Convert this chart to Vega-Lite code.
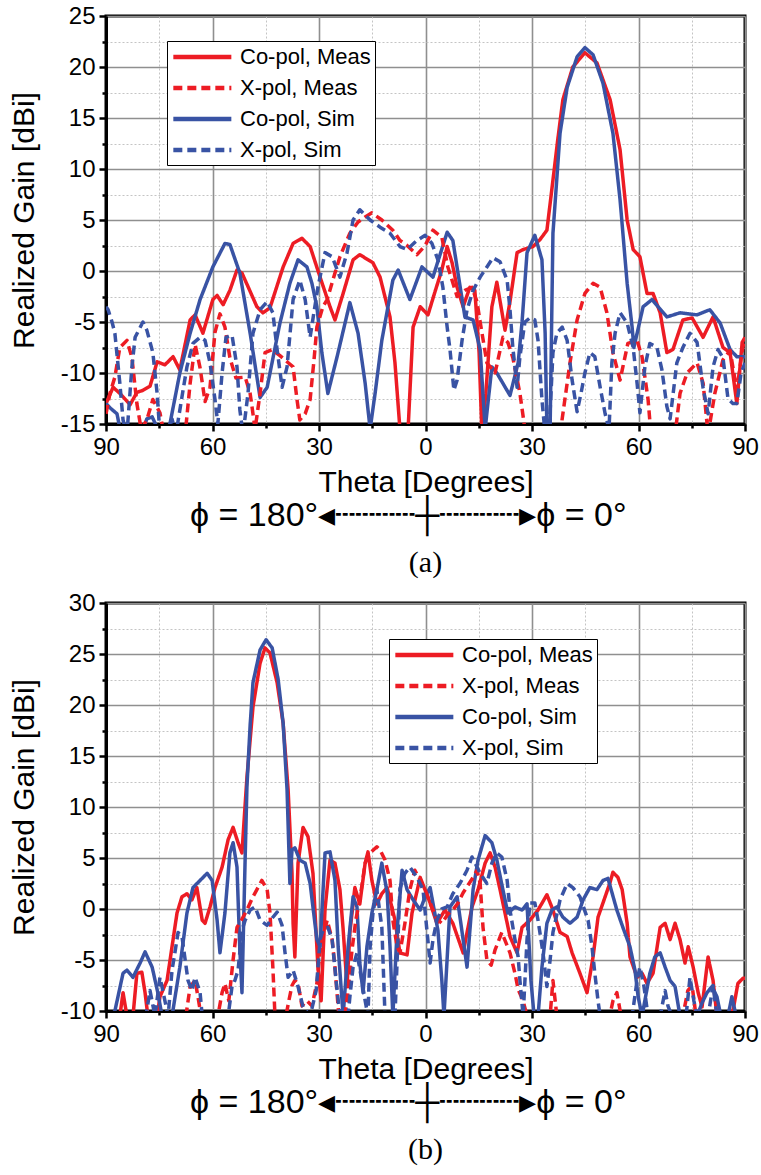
{
  "$schema": "https://vega.github.io/schema/vega-lite/v6.json",
  "background": "white",
  "padding": {"left": 7, "top": 2, "right": 2, "bottom": 4},
  "spacing": 9,
  "config": {
    "view": {"stroke": "black", "strokeWidth": 3},
    "axis": {
      "labelFont": "Liberation Sans", "labelFontSize": 24, "labelColor": "black",
      "titleFont": "Liberation Sans", "titleFontSize": 30, "titleFontWeight": "normal", "titleColor": "black",
      "domainColor": "black", "domainWidth": 3, "tickColor": "black", "tickWidth": 2.5,
      "gridOpacity": 1, "labelFlush": false, "labelOverlap": false, "labelBound": false, "labelPadding": 4
    },
    "legend": {
      "orient": "none", "title": null, "labelFont": "Liberation Sans", "labelFontSize": 22, "labelColor": "black",
      "symbolType": "M-1,0H5", "symbolSize": 374, "symbolStrokeWidth": 4.5, "labelOffset": 45,
      "strokeColor": "black", "fillColor": "white", "padding": 4, "rowPadding": 8, "labelLimit": 300
    }
  },
  "resolve": {"scale": {"color": "independent", "strokeDash": "independent"}, "legend": {"color": "independent", "strokeDash": "independent"}},
  "datasets": {
    "a": [
      {"series": "Co-pol, Meas", "theta": -90.0, "gain": -13},
      {"series": "Co-pol, Meas", "theta": -88.0, "gain": -11.4},
      {"series": "Co-pol, Meas", "theta": -86.1, "gain": -12},
      {"series": "Co-pol, Meas", "theta": -83.2, "gain": -13.1},
      {"series": "Co-pol, Meas", "theta": -81.3, "gain": -11.9},
      {"series": "Co-pol, Meas", "theta": -79.6, "gain": -11.7},
      {"series": "Co-pol, Meas", "theta": -77.6, "gain": -11.3},
      {"series": "Co-pol, Meas", "theta": -75.6, "gain": -8.9},
      {"series": "Co-pol, Meas", "theta": -73.4, "gain": -9.2},
      {"series": "Co-pol, Meas", "theta": -71.1, "gain": -8.4},
      {"series": "Co-pol, Meas", "theta": -69.2, "gain": -9.7},
      {"series": "Co-pol, Meas", "theta": -66.3, "gain": -4.8},
      {"series": "Co-pol, Meas", "theta": -64.9, "gain": -4.3},
      {"series": "Co-pol, Meas", "theta": -62.7, "gain": -6.1},
      {"series": "Co-pol, Meas", "theta": -59.9, "gain": -2.8},
      {"series": "Co-pol, Meas", "theta": -58.7, "gain": -2.4},
      {"series": "Co-pol, Meas", "theta": -57.0, "gain": -3.3},
      {"series": "Co-pol, Meas", "theta": -55.1, "gain": -1.9},
      {"series": "Co-pol, Meas", "theta": -53.1, "gain": 0.1},
      {"series": "Co-pol, Meas", "theta": -51.7, "gain": -0.2},
      {"series": "Co-pol, Meas", "theta": -49.4, "gain": -2},
      {"series": "Co-pol, Meas", "theta": -47.5, "gain": -3.5},
      {"series": "Co-pol, Meas", "theta": -45.8, "gain": -4.1},
      {"series": "Co-pol, Meas", "theta": -43.8, "gain": -3.6},
      {"series": "Co-pol, Meas", "theta": -40.1, "gain": 0.4},
      {"series": "Co-pol, Meas", "theta": -37.3, "gain": 2.7},
      {"series": "Co-pol, Meas", "theta": -34.8, "gain": 3.2},
      {"series": "Co-pol, Meas", "theta": -32.5, "gain": 2.4},
      {"series": "Co-pol, Meas", "theta": -29.7, "gain": -0.6},
      {"series": "Co-pol, Meas", "theta": -26.9, "gain": -3.5},
      {"series": "Co-pol, Meas", "theta": -25.5, "gain": -4.8},
      {"series": "Co-pol, Meas", "theta": -23.2, "gain": -2.2},
      {"series": "Co-pol, Meas", "theta": -20.4, "gain": 1.1},
      {"series": "Co-pol, Meas", "theta": -18.5, "gain": 1.6},
      {"series": "Co-pol, Meas", "theta": -14.8, "gain": 0.8},
      {"series": "Co-pol, Meas", "theta": -12.8, "gain": -0.6},
      {"series": "Co-pol, Meas", "theta": -10.0, "gain": -4.5},
      {"series": "Co-pol, Meas", "theta": -8.6, "gain": -9},
      {"series": "Co-pol, Meas", "theta": -7.2, "gain": -15.5},
      {"series": "Co-pol, Meas", "theta": -6.1, "gain": -17},
      {"series": "Co-pol, Meas", "theta": -4.9, "gain": -15.5},
      {"series": "Co-pol, Meas", "theta": -3.5, "gain": -5.5},
      {"series": "Co-pol, Meas", "theta": -1.5, "gain": -3.5},
      {"series": "Co-pol, Meas", "theta": 0.7, "gain": -4.3},
      {"series": "Co-pol, Meas", "theta": 2.7, "gain": -2},
      {"series": "Co-pol, Meas", "theta": 4.6, "gain": 0.1},
      {"series": "Co-pol, Meas", "theta": 6.1, "gain": 2.4},
      {"series": "Co-pol, Meas", "theta": 7.5, "gain": 0.8},
      {"series": "Co-pol, Meas", "theta": 8.9, "gain": -1.6},
      {"series": "Co-pol, Meas", "theta": 10.6, "gain": -3.5},
      {"series": "Co-pol, Meas", "theta": 12.5, "gain": -1.6},
      {"series": "Co-pol, Meas", "theta": 13.9, "gain": -1.9},
      {"series": "Co-pol, Meas", "theta": 15.1, "gain": -8},
      {"series": "Co-pol, Meas", "theta": 15.9, "gain": -16},
      {"series": "Co-pol, Meas", "theta": 17.0, "gain": -12},
      {"series": "Co-pol, Meas", "theta": 18.7, "gain": -3.5},
      {"series": "Co-pol, Meas", "theta": 20.1, "gain": -1.1},
      {"series": "Co-pol, Meas", "theta": 22.4, "gain": -5.8},
      {"series": "Co-pol, Meas", "theta": 23.8, "gain": -3},
      {"series": "Co-pol, Meas", "theta": 25.8, "gain": 1.8},
      {"series": "Co-pol, Meas", "theta": 27.5, "gain": 2.1},
      {"series": "Co-pol, Meas", "theta": 30.3, "gain": 2.4},
      {"series": "Co-pol, Meas", "theta": 32.3, "gain": 3.1},
      {"series": "Co-pol, Meas", "theta": 34.2, "gain": 4.0},
      {"series": "Co-pol, Meas", "theta": 35.9, "gain": 8.9},
      {"series": "Co-pol, Meas", "theta": 37.3, "gain": 13},
      {"series": "Co-pol, Meas", "theta": 38.7, "gain": 16.8},
      {"series": "Co-pol, Meas", "theta": 41.5, "gain": 20},
      {"series": "Co-pol, Meas", "theta": 44.9, "gain": 21.4},
      {"series": "Co-pol, Meas", "theta": 48.3, "gain": 20.4},
      {"series": "Co-pol, Meas", "theta": 52.0, "gain": 16.8},
      {"series": "Co-pol, Meas", "theta": 54.8, "gain": 11.9},
      {"series": "Co-pol, Meas", "theta": 56.8, "gain": 5},
      {"series": "Co-pol, Meas", "theta": 58.5, "gain": 2.1},
      {"series": "Co-pol, Meas", "theta": 60.4, "gain": 1.4},
      {"series": "Co-pol, Meas", "theta": 62.4, "gain": -2.2},
      {"series": "Co-pol, Meas", "theta": 64.1, "gain": -2.2},
      {"series": "Co-pol, Meas", "theta": 66.1, "gain": -4.1},
      {"series": "Co-pol, Meas", "theta": 68.0, "gain": -8.0},
      {"series": "Co-pol, Meas", "theta": 69.7, "gain": -7.7},
      {"series": "Co-pol, Meas", "theta": 72.5, "gain": -4.8},
      {"series": "Co-pol, Meas", "theta": 75.1, "gain": -4.6},
      {"series": "Co-pol, Meas", "theta": 78.2, "gain": -6.5},
      {"series": "Co-pol, Meas", "theta": 81.0, "gain": -4.5},
      {"series": "Co-pol, Meas", "theta": 83.8, "gain": -7.5},
      {"series": "Co-pol, Meas", "theta": 85.8, "gain": -8},
      {"series": "Co-pol, Meas", "theta": 87.7, "gain": -13},
      {"series": "Co-pol, Meas", "theta": 89.2, "gain": -7},
      {"series": "Co-pol, Meas", "theta": 90.0, "gain": -6.5},

      {"series": "Co-pol, Sim", "theta": -90.0, "gain": -13},
      {"series": "Co-pol, Sim", "theta": -88.6, "gain": -13.5},
      {"series": "Co-pol, Sim", "theta": -86.9, "gain": -14},
      {"series": "Co-pol, Sim", "theta": -85.5, "gain": -16.5},
      {"series": "Co-pol, Sim", "theta": -80.4, "gain": -16.5},
      {"series": "Co-pol, Sim", "theta": -78.5, "gain": -14.5},
      {"series": "Co-pol, Sim", "theta": -77.0, "gain": -14.3},
      {"series": "Co-pol, Sim", "theta": -75.4, "gain": -15.5},
      {"series": "Co-pol, Sim", "theta": -73.4, "gain": -17},
      {"series": "Co-pol, Sim", "theta": -72.0, "gain": -15},
      {"series": "Co-pol, Sim", "theta": -69.2, "gain": -10},
      {"series": "Co-pol, Sim", "theta": -66.3, "gain": -6.1},
      {"series": "Co-pol, Sim", "theta": -63.5, "gain": -2.8},
      {"series": "Co-pol, Sim", "theta": -59.9, "gain": 0.4},
      {"series": "Co-pol, Sim", "theta": -56.5, "gain": 2.7},
      {"series": "Co-pol, Sim", "theta": -55.1, "gain": 2.6},
      {"series": "Co-pol, Sim", "theta": -52.3, "gain": -0.2},
      {"series": "Co-pol, Sim", "theta": -49.4, "gain": -6.1},
      {"series": "Co-pol, Sim", "theta": -46.6, "gain": -12.4},
      {"series": "Co-pol, Sim", "theta": -44.6, "gain": -11.4},
      {"series": "Co-pol, Sim", "theta": -41.0, "gain": -5.1},
      {"series": "Co-pol, Sim", "theta": -38.2, "gain": -1.2},
      {"series": "Co-pol, Sim", "theta": -35.9, "gain": 1.1},
      {"series": "Co-pol, Sim", "theta": -33.4, "gain": 0.4},
      {"series": "Co-pol, Sim", "theta": -32.0, "gain": -1.2},
      {"series": "Co-pol, Sim", "theta": -30.6, "gain": -3.5},
      {"series": "Co-pol, Sim", "theta": -29.2, "gain": -8},
      {"series": "Co-pol, Sim", "theta": -27.5, "gain": -12},
      {"series": "Co-pol, Sim", "theta": -24.9, "gain": -8.4},
      {"series": "Co-pol, Sim", "theta": -21.3, "gain": -3.1},
      {"series": "Co-pol, Sim", "theta": -19.0, "gain": -6.1},
      {"series": "Co-pol, Sim", "theta": -17.0, "gain": -11},
      {"series": "Co-pol, Sim", "theta": -15.6, "gain": -15.5},
      {"series": "Co-pol, Sim", "theta": -14.2, "gain": -12},
      {"series": "Co-pol, Sim", "theta": -12.3, "gain": -6.8},
      {"series": "Co-pol, Sim", "theta": -9.2, "gain": -0.9},
      {"series": "Co-pol, Sim", "theta": -7.7, "gain": 0.1},
      {"series": "Co-pol, Sim", "theta": -4.4, "gain": -2.8},
      {"series": "Co-pol, Sim", "theta": -1.0, "gain": 0.4},
      {"series": "Co-pol, Sim", "theta": 2.1, "gain": -0.6},
      {"series": "Co-pol, Sim", "theta": 6.1, "gain": 3.8},
      {"series": "Co-pol, Sim", "theta": 7.7, "gain": 3.0},
      {"series": "Co-pol, Sim", "theta": 11.1, "gain": -4.5},
      {"series": "Co-pol, Sim", "theta": 13.4, "gain": -4.8},
      {"series": "Co-pol, Sim", "theta": 15.4, "gain": -7.7},
      {"series": "Co-pol, Sim", "theta": 16.8, "gain": -15.5},
      {"series": "Co-pol, Sim", "theta": 18.7, "gain": -9.4},
      {"series": "Co-pol, Sim", "theta": 20.1, "gain": -10},
      {"series": "Co-pol, Sim", "theta": 23.8, "gain": -12.2},
      {"series": "Co-pol, Sim", "theta": 26.1, "gain": -9},
      {"series": "Co-pol, Sim", "theta": 27.2, "gain": -5},
      {"series": "Co-pol, Sim", "theta": 28.6, "gain": 1.8},
      {"series": "Co-pol, Sim", "theta": 30.8, "gain": 3.5},
      {"series": "Co-pol, Sim", "theta": 32.8, "gain": 1.1},
      {"series": "Co-pol, Sim", "theta": 33.7, "gain": -6.1},
      {"series": "Co-pol, Sim", "theta": 34.2, "gain": -15.5},
      {"series": "Co-pol, Sim", "theta": 35.1, "gain": -15.5},
      {"series": "Co-pol, Sim", "theta": 35.9, "gain": 3.7},
      {"series": "Co-pol, Sim", "theta": 37.9, "gain": 13.5},
      {"series": "Co-pol, Sim", "theta": 39.9, "gain": 18},
      {"series": "Co-pol, Sim", "theta": 42.7, "gain": 21},
      {"series": "Co-pol, Sim", "theta": 44.9, "gain": 21.9},
      {"series": "Co-pol, Sim", "theta": 47.2, "gain": 21.2},
      {"series": "Co-pol, Sim", "theta": 50.0, "gain": 18.4},
      {"series": "Co-pol, Sim", "theta": 52.8, "gain": 13.5},
      {"series": "Co-pol, Sim", "theta": 54.8, "gain": 7},
      {"series": "Co-pol, Sim", "theta": 56.8, "gain": -1.2},
      {"series": "Co-pol, Sim", "theta": 58.2, "gain": -5.5},
      {"series": "Co-pol, Sim", "theta": 58.7, "gain": -7.5},
      {"series": "Co-pol, Sim", "theta": 61.3, "gain": -3.5},
      {"series": "Co-pol, Sim", "theta": 63.8, "gain": -2.8},
      {"series": "Co-pol, Sim", "theta": 68.0, "gain": -4.5},
      {"series": "Co-pol, Sim", "theta": 71.7, "gain": -4.1},
      {"series": "Co-pol, Sim", "theta": 76.5, "gain": -4.3},
      {"series": "Co-pol, Sim", "theta": 80.1, "gain": -3.8},
      {"series": "Co-pol, Sim", "theta": 83.0, "gain": -5.1},
      {"series": "Co-pol, Sim", "theta": 85.8, "gain": -7.7},
      {"series": "Co-pol, Sim", "theta": 87.7, "gain": -8.4},
      {"series": "Co-pol, Sim", "theta": 90.0, "gain": -8.4},

      {"series": "X-pol, Meas", "theta": -90.0, "gain": -14},
      {"series": "X-pol, Meas", "theta": -88.9, "gain": -12},
      {"series": "X-pol, Meas", "theta": -87.5, "gain": -10.4},
      {"series": "X-pol, Meas", "theta": -86.1, "gain": -7.5},
      {"series": "X-pol, Meas", "theta": -84.1, "gain": -6.8},
      {"series": "X-pol, Meas", "theta": -82.7, "gain": -8.5},
      {"series": "X-pol, Meas", "theta": -81.3, "gain": -13},
      {"series": "X-pol, Meas", "theta": -80.1, "gain": -15.5},
      {"series": "X-pol, Meas", "theta": -78.5, "gain": -14.6},
      {"series": "X-pol, Meas", "theta": -76.8, "gain": -12.6},
      {"series": "X-pol, Meas", "theta": -74.8, "gain": -13.9},
      {"series": "X-pol, Meas", "theta": -73.7, "gain": -16},
      {"series": "X-pol, Meas", "theta": -67.7, "gain": -16},
      {"series": "X-pol, Meas", "theta": -66.3, "gain": -11},
      {"series": "X-pol, Meas", "theta": -64.9, "gain": -7.2},
      {"series": "X-pol, Meas", "theta": -63.5, "gain": -9.5},
      {"series": "X-pol, Meas", "theta": -62.1, "gain": -12.8},
      {"series": "X-pol, Meas", "theta": -60.7, "gain": -11.4},
      {"series": "X-pol, Meas", "theta": -59.3, "gain": -6},
      {"series": "X-pol, Meas", "theta": -57.9, "gain": -4.2},
      {"series": "X-pol, Meas", "theta": -56.5, "gain": -5.5},
      {"series": "X-pol, Meas", "theta": -55.1, "gain": -8.5},
      {"series": "X-pol, Meas", "theta": -53.4, "gain": -10.5},
      {"series": "X-pol, Meas", "theta": -50.8, "gain": -10.4},
      {"series": "X-pol, Meas", "theta": -49.4, "gain": -12},
      {"series": "X-pol, Meas", "theta": -48.0, "gain": -15.5},
      {"series": "X-pol, Meas", "theta": -46.6, "gain": -12},
      {"series": "X-pol, Meas", "theta": -45.2, "gain": -8},
      {"series": "X-pol, Meas", "theta": -43.2, "gain": -7.7},
      {"series": "X-pol, Meas", "theta": -41.0, "gain": -8.3},
      {"series": "X-pol, Meas", "theta": -39.0, "gain": -8.9},
      {"series": "X-pol, Meas", "theta": -37.3, "gain": -9.4},
      {"series": "X-pol, Meas", "theta": -36.2, "gain": -12.6},
      {"series": "X-pol, Meas", "theta": -35.4, "gain": -14.6},
      {"series": "X-pol, Meas", "theta": -33.9, "gain": -14},
      {"series": "X-pol, Meas", "theta": -32.5, "gain": -12.6},
      {"series": "X-pol, Meas", "theta": -31.4, "gain": -8.7},
      {"series": "X-pol, Meas", "theta": -30.6, "gain": -5.5},
      {"series": "X-pol, Meas", "theta": -28.9, "gain": -3.5},
      {"series": "X-pol, Meas", "theta": -27.7, "gain": -2.8},
      {"series": "X-pol, Meas", "theta": -25.5, "gain": -0.2},
      {"series": "X-pol, Meas", "theta": -24.1, "gain": 1.4},
      {"series": "X-pol, Meas", "theta": -21.3, "gain": 3.7},
      {"series": "X-pol, Meas", "theta": -19.0, "gain": 4.8},
      {"series": "X-pol, Meas", "theta": -17.0, "gain": 5.3},
      {"series": "X-pol, Meas", "theta": -15.1, "gain": 5.7},
      {"series": "X-pol, Meas", "theta": -12.3, "gain": 5},
      {"series": "X-pol, Meas", "theta": -9.2, "gain": 4},
      {"series": "X-pol, Meas", "theta": -7.2, "gain": 3.0},
      {"series": "X-pol, Meas", "theta": -5.2, "gain": 2.5},
      {"series": "X-pol, Meas", "theta": -2.4, "gain": 1.6},
      {"series": "X-pol, Meas", "theta": -0.1, "gain": 2.5},
      {"series": "X-pol, Meas", "theta": 2.1, "gain": 4},
      {"series": "X-pol, Meas", "theta": 3.2, "gain": 3.7},
      {"series": "X-pol, Meas", "theta": 4.6, "gain": 3.3},
      {"series": "X-pol, Meas", "theta": 6.3, "gain": 0.4},
      {"series": "X-pol, Meas", "theta": 8.9, "gain": -2.5},
      {"series": "X-pol, Meas", "theta": 11.1, "gain": -1.9},
      {"series": "X-pol, Meas", "theta": 13.1, "gain": -1.6},
      {"series": "X-pol, Meas", "theta": 14.5, "gain": -3},
      {"series": "X-pol, Meas", "theta": 15.4, "gain": -5},
      {"series": "X-pol, Meas", "theta": 17.3, "gain": -9},
      {"series": "X-pol, Meas", "theta": 19.6, "gain": -10},
      {"series": "X-pol, Meas", "theta": 21.8, "gain": -6.5},
      {"series": "X-pol, Meas", "theta": 23.2, "gain": -7},
      {"series": "X-pol, Meas", "theta": 24.6, "gain": -8.5},
      {"series": "X-pol, Meas", "theta": 26.6, "gain": -12},
      {"series": "X-pol, Meas", "theta": 28.0, "gain": -15.5},
      {"series": "X-pol, Meas", "theta": 37.9, "gain": -16},
      {"series": "X-pol, Meas", "theta": 38.7, "gain": -14},
      {"series": "X-pol, Meas", "theta": 40.7, "gain": -9},
      {"series": "X-pol, Meas", "theta": 42.7, "gain": -4.8},
      {"series": "X-pol, Meas", "theta": 44.9, "gain": -2.2},
      {"series": "X-pol, Meas", "theta": 47.2, "gain": -1.2},
      {"series": "X-pol, Meas", "theta": 49.2, "gain": -1.6},
      {"series": "X-pol, Meas", "theta": 51.1, "gain": -4.1},
      {"series": "X-pol, Meas", "theta": 52.8, "gain": -8},
      {"series": "X-pol, Meas", "theta": 54.8, "gain": -10.7},
      {"series": "X-pol, Meas", "theta": 55.6, "gain": -9.4},
      {"series": "X-pol, Meas", "theta": 57.0, "gain": -7.1},
      {"series": "X-pol, Meas", "theta": 59.6, "gain": -6.8},
      {"series": "X-pol, Meas", "theta": 61.0, "gain": -8.4},
      {"series": "X-pol, Meas", "theta": 62.7, "gain": -12.6},
      {"series": "X-pol, Meas", "theta": 63.5, "gain": -16},
      {"series": "X-pol, Meas", "theta": 70.3, "gain": -16},
      {"series": "X-pol, Meas", "theta": 71.7, "gain": -12},
      {"series": "X-pol, Meas", "theta": 73.7, "gain": -10},
      {"series": "X-pol, Meas", "theta": 76.5, "gain": -9},
      {"series": "X-pol, Meas", "theta": 78.2, "gain": -11},
      {"series": "X-pol, Meas", "theta": 79.6, "gain": -16},
      {"series": "X-pol, Meas", "theta": 81.5, "gain": -12},
      {"series": "X-pol, Meas", "theta": 83.8, "gain": -8.7},
      {"series": "X-pol, Meas", "theta": 85.8, "gain": -7.8},
      {"series": "X-pol, Meas", "theta": 87.7, "gain": -11.7},
      {"series": "X-pol, Meas", "theta": 89.4, "gain": -7.4},
      {"series": "X-pol, Meas", "theta": 90.0, "gain": -7},

      {"series": "X-pol, Sim", "theta": -90.0, "gain": -3.5},
      {"series": "X-pol, Sim", "theta": -89.4, "gain": -3.8},
      {"series": "X-pol, Sim", "theta": -88.3, "gain": -5},
      {"series": "X-pol, Sim", "theta": -87.5, "gain": -6.1},
      {"series": "X-pol, Sim", "theta": -86.1, "gain": -11},
      {"series": "X-pol, Sim", "theta": -85.2, "gain": -14.6},
      {"series": "X-pol, Sim", "theta": -84.1, "gain": -16},
      {"series": "X-pol, Sim", "theta": -82.7, "gain": -9.4},
      {"series": "X-pol, Sim", "theta": -81.8, "gain": -6.5},
      {"series": "X-pol, Sim", "theta": -79.6, "gain": -5},
      {"series": "X-pol, Sim", "theta": -78.5, "gain": -5.8},
      {"series": "X-pol, Sim", "theta": -76.8, "gain": -8},
      {"series": "X-pol, Sim", "theta": -75.6, "gain": -12},
      {"series": "X-pol, Sim", "theta": -74.8, "gain": -16},
      {"series": "X-pol, Sim", "theta": -72.5, "gain": -16},
      {"series": "X-pol, Sim", "theta": -71.4, "gain": -14.5},
      {"series": "X-pol, Sim", "theta": -70.3, "gain": -16},
      {"series": "X-pol, Sim", "theta": -68.3, "gain": -11.7},
      {"series": "X-pol, Sim", "theta": -67.2, "gain": -9.4},
      {"series": "X-pol, Sim", "theta": -65.5, "gain": -7.1},
      {"series": "X-pol, Sim", "theta": -63.5, "gain": -6.5},
      {"series": "X-pol, Sim", "theta": -62.1, "gain": -6.8},
      {"series": "X-pol, Sim", "theta": -60.7, "gain": -9},
      {"series": "X-pol, Sim", "theta": -59.3, "gain": -12.6},
      {"series": "X-pol, Sim", "theta": -58.5, "gain": -15},
      {"series": "X-pol, Sim", "theta": -57.3, "gain": -10},
      {"series": "X-pol, Sim", "theta": -56.2, "gain": -6.5},
      {"series": "X-pol, Sim", "theta": -54.5, "gain": -6.3},
      {"series": "X-pol, Sim", "theta": -53.1, "gain": -9.4},
      {"series": "X-pol, Sim", "theta": -52.3, "gain": -13.6},
      {"series": "X-pol, Sim", "theta": -51.4, "gain": -16},
      {"series": "X-pol, Sim", "theta": -50.0, "gain": -12},
      {"series": "X-pol, Sim", "theta": -48.6, "gain": -6.1},
      {"series": "X-pol, Sim", "theta": -46.6, "gain": -3.8},
      {"series": "X-pol, Sim", "theta": -44.6, "gain": -3},
      {"series": "X-pol, Sim", "theta": -43.0, "gain": -4.1},
      {"series": "X-pol, Sim", "theta": -41.8, "gain": -7.7},
      {"series": "X-pol, Sim", "theta": -40.4, "gain": -11.4},
      {"series": "X-pol, Sim", "theta": -39.0, "gain": -9.4},
      {"series": "X-pol, Sim", "theta": -37.3, "gain": -2.8},
      {"series": "X-pol, Sim", "theta": -35.4, "gain": -0.9},
      {"series": "X-pol, Sim", "theta": -33.9, "gain": -2.8},
      {"series": "X-pol, Sim", "theta": -32.5, "gain": -6.5},
      {"series": "X-pol, Sim", "theta": -31.4, "gain": -4},
      {"series": "X-pol, Sim", "theta": -30.3, "gain": -1.6},
      {"series": "X-pol, Sim", "theta": -28.3, "gain": 1.8},
      {"series": "X-pol, Sim", "theta": -26.3, "gain": 1.4},
      {"series": "X-pol, Sim", "theta": -24.1, "gain": -0.6},
      {"series": "X-pol, Sim", "theta": -22.1, "gain": 1.8},
      {"series": "X-pol, Sim", "theta": -20.4, "gain": 5},
      {"series": "X-pol, Sim", "theta": -18.5, "gain": 6},
      {"series": "X-pol, Sim", "theta": -15.6, "gain": 5},
      {"series": "X-pol, Sim", "theta": -12.8, "gain": 4.3},
      {"series": "X-pol, Sim", "theta": -10.0, "gain": 3.7},
      {"series": "X-pol, Sim", "theta": -7.2, "gain": 2.4},
      {"series": "X-pol, Sim", "theta": -5.2, "gain": 2.1},
      {"series": "X-pol, Sim", "theta": -2.4, "gain": 3.0},
      {"series": "X-pol, Sim", "theta": -0.1, "gain": 3.5},
      {"series": "X-pol, Sim", "theta": 1.8, "gain": 2.7},
      {"series": "X-pol, Sim", "theta": 3.5, "gain": 1.1},
      {"series": "X-pol, Sim", "theta": 4.9, "gain": -1.6},
      {"series": "X-pol, Sim", "theta": 6.1, "gain": -5.5},
      {"series": "X-pol, Sim", "theta": 6.9, "gain": -7.7},
      {"series": "X-pol, Sim", "theta": 8.0, "gain": -11.7},
      {"series": "X-pol, Sim", "theta": 8.9, "gain": -10.7},
      {"series": "X-pol, Sim", "theta": 10.3, "gain": -6.8},
      {"series": "X-pol, Sim", "theta": 11.7, "gain": -3.8},
      {"series": "X-pol, Sim", "theta": 13.4, "gain": -1.9},
      {"series": "X-pol, Sim", "theta": 15.4, "gain": -0.6},
      {"series": "X-pol, Sim", "theta": 17.3, "gain": 0.4},
      {"series": "X-pol, Sim", "theta": 19.0, "gain": 1.3},
      {"series": "X-pol, Sim", "theta": 21.0, "gain": 0.9},
      {"series": "X-pol, Sim", "theta": 23.0, "gain": -0.9},
      {"series": "X-pol, Sim", "theta": 23.8, "gain": -3.8},
      {"series": "X-pol, Sim", "theta": 24.6, "gain": -7.5},
      {"series": "X-pol, Sim", "theta": 25.8, "gain": -11.4},
      {"series": "X-pol, Sim", "theta": 26.6, "gain": -8.4},
      {"series": "X-pol, Sim", "theta": 28.0, "gain": -5},
      {"series": "X-pol, Sim", "theta": 29.4, "gain": -4.6},
      {"series": "X-pol, Sim", "theta": 30.8, "gain": -4.8},
      {"series": "X-pol, Sim", "theta": 31.7, "gain": -6.8},
      {"series": "X-pol, Sim", "theta": 32.8, "gain": -12.6},
      {"series": "X-pol, Sim", "theta": 33.7, "gain": -16},
      {"series": "X-pol, Sim", "theta": 34.8, "gain": -16},
      {"series": "X-pol, Sim", "theta": 35.9, "gain": -8},
      {"series": "X-pol, Sim", "theta": 37.0, "gain": -6.1},
      {"series": "X-pol, Sim", "theta": 38.5, "gain": -5.5},
      {"series": "X-pol, Sim", "theta": 39.9, "gain": -6.8},
      {"series": "X-pol, Sim", "theta": 41.3, "gain": -10.7},
      {"series": "X-pol, Sim", "theta": 42.7, "gain": -13.8},
      {"series": "X-pol, Sim", "theta": 43.8, "gain": -12},
      {"series": "X-pol, Sim", "theta": 44.9, "gain": -10},
      {"series": "X-pol, Sim", "theta": 46.3, "gain": -8},
      {"series": "X-pol, Sim", "theta": 47.7, "gain": -8.4},
      {"series": "X-pol, Sim", "theta": 49.2, "gain": -11.4},
      {"series": "X-pol, Sim", "theta": 50.6, "gain": -14},
      {"series": "X-pol, Sim", "theta": 51.7, "gain": -15.5},
      {"series": "X-pol, Sim", "theta": 52.5, "gain": -9},
      {"series": "X-pol, Sim", "theta": 53.4, "gain": -6.1},
      {"series": "X-pol, Sim", "theta": 54.8, "gain": -4.1},
      {"series": "X-pol, Sim", "theta": 56.8, "gain": -5.1},
      {"series": "X-pol, Sim", "theta": 58.5, "gain": -7.5},
      {"series": "X-pol, Sim", "theta": 59.6, "gain": -11},
      {"series": "X-pol, Sim", "theta": 60.4, "gain": -13.9},
      {"series": "X-pol, Sim", "theta": 61.8, "gain": -9.4},
      {"series": "X-pol, Sim", "theta": 63.2, "gain": -7.1},
      {"series": "X-pol, Sim", "theta": 65.2, "gain": -7.5},
      {"series": "X-pol, Sim", "theta": 66.6, "gain": -9.7},
      {"series": "X-pol, Sim", "theta": 68.0, "gain": -13.3},
      {"series": "X-pol, Sim", "theta": 68.9, "gain": -14.5},
      {"series": "X-pol, Sim", "theta": 70.8, "gain": -9},
      {"series": "X-pol, Sim", "theta": 72.5, "gain": -7.5},
      {"series": "X-pol, Sim", "theta": 74.5, "gain": -6.1},
      {"series": "X-pol, Sim", "theta": 76.5, "gain": -7},
      {"series": "X-pol, Sim", "theta": 78.2, "gain": -11.5},
      {"series": "X-pol, Sim", "theta": 79.6, "gain": -14},
      {"series": "X-pol, Sim", "theta": 81.0, "gain": -9.4},
      {"series": "X-pol, Sim", "theta": 82.4, "gain": -7.7},
      {"series": "X-pol, Sim", "theta": 83.8, "gain": -8.5},
      {"series": "X-pol, Sim", "theta": 85.2, "gain": -12.5},
      {"series": "X-pol, Sim", "theta": 86.6, "gain": -13},
      {"series": "X-pol, Sim", "theta": 87.7, "gain": -13},
      {"series": "X-pol, Sim", "theta": 88.9, "gain": -10},
      {"series": "X-pol, Sim", "theta": 90.0, "gain": -9}
    ],
    "b": [
      {"series": "Co-pol, Meas", "theta": -90.0, "gain": -10.5},
      {"series": "Co-pol, Meas", "theta": -86.1, "gain": -10.5},
      {"series": "Co-pol, Meas", "theta": -85.2, "gain": -8.2},
      {"series": "Co-pol, Meas", "theta": -84.1, "gain": -10.5},
      {"series": "Co-pol, Meas", "theta": -82.4, "gain": -10.5},
      {"series": "Co-pol, Meas", "theta": -81.3, "gain": -6.3},
      {"series": "Co-pol, Meas", "theta": -79.9, "gain": -6.2},
      {"series": "Co-pol, Meas", "theta": -79.0, "gain": -8.2},
      {"series": "Co-pol, Meas", "theta": -78.2, "gain": -10.5},
      {"series": "Co-pol, Meas", "theta": -75.6, "gain": -10.5},
      {"series": "Co-pol, Meas", "theta": -74.8, "gain": -8.6},
      {"series": "Co-pol, Meas", "theta": -72.8, "gain": -7},
      {"series": "Co-pol, Meas", "theta": -71.4, "gain": -3.7},
      {"series": "Co-pol, Meas", "theta": -70.0, "gain": -0.4},
      {"series": "Co-pol, Meas", "theta": -68.6, "gain": 1.2},
      {"series": "Co-pol, Meas", "theta": -67.2, "gain": 1.5},
      {"series": "Co-pol, Meas", "theta": -65.8, "gain": 0.9},
      {"series": "Co-pol, Meas", "theta": -64.4, "gain": 2.1},
      {"series": "Co-pol, Meas", "theta": -62.9, "gain": -1.1},
      {"series": "Co-pol, Meas", "theta": -62.1, "gain": -1.4},
      {"series": "Co-pol, Meas", "theta": -60.7, "gain": 0.2},
      {"series": "Co-pol, Meas", "theta": -59.3, "gain": 2.1},
      {"series": "Co-pol, Meas", "theta": -57.3, "gain": 4.1},
      {"series": "Co-pol, Meas", "theta": -55.6, "gain": 6.8},
      {"series": "Co-pol, Meas", "theta": -54.2, "gain": 8.0},
      {"series": "Co-pol, Meas", "theta": -52.8, "gain": 6.5},
      {"series": "Co-pol, Meas", "theta": -51.7, "gain": 5.5},
      {"series": "Co-pol, Meas", "theta": -50.3, "gain": 12.9},
      {"series": "Co-pol, Meas", "theta": -48.6, "gain": 19.8},
      {"series": "Co-pol, Meas", "theta": -46.6, "gain": 24.1},
      {"series": "Co-pol, Meas", "theta": -45.2, "gain": 25.6},
      {"series": "Co-pol, Meas", "theta": -43.8, "gain": 25.1},
      {"series": "Co-pol, Meas", "theta": -41.8, "gain": 22.2},
      {"series": "Co-pol, Meas", "theta": -40.1, "gain": 18.2},
      {"series": "Co-pol, Meas", "theta": -38.7, "gain": 11.7},
      {"series": "Co-pol, Meas", "theta": -37.6, "gain": 3.5},
      {"series": "Co-pol, Meas", "theta": -37.3, "gain": -1.4},
      {"series": "Co-pol, Meas", "theta": -36.8, "gain": -4.7},
      {"series": "Co-pol, Meas", "theta": -35.9, "gain": 4.5},
      {"series": "Co-pol, Meas", "theta": -34.5, "gain": 8.0},
      {"series": "Co-pol, Meas", "theta": -33.1, "gain": 7.1},
      {"series": "Co-pol, Meas", "theta": -31.7, "gain": 3.5},
      {"series": "Co-pol, Meas", "theta": -30.3, "gain": -5.7},
      {"series": "Co-pol, Meas", "theta": -29.4, "gain": -9},
      {"series": "Co-pol, Meas", "theta": -28.3, "gain": 0},
      {"series": "Co-pol, Meas", "theta": -26.9, "gain": 4.8},
      {"series": "Co-pol, Meas", "theta": -25.5, "gain": 4.5},
      {"series": "Co-pol, Meas", "theta": -24.1, "gain": 1.9},
      {"series": "Co-pol, Meas", "theta": -23.2, "gain": -2},
      {"series": "Co-pol, Meas", "theta": -22.1, "gain": -7.6},
      {"series": "Co-pol, Meas", "theta": -21.3, "gain": -2.3},
      {"series": "Co-pol, Meas", "theta": -19.9, "gain": 2.1},
      {"series": "Co-pol, Meas", "theta": -18.5, "gain": 0.5},
      {"series": "Co-pol, Meas", "theta": -17.0, "gain": 4.5},
      {"series": "Co-pol, Meas", "theta": -16.2, "gain": 5.6},
      {"series": "Co-pol, Meas", "theta": -15.1, "gain": 2.8},
      {"series": "Co-pol, Meas", "theta": -13.7, "gain": 0.5},
      {"series": "Co-pol, Meas", "theta": -12.3, "gain": 1.5},
      {"series": "Co-pol, Meas", "theta": -10.8, "gain": 2.1},
      {"series": "Co-pol, Meas", "theta": -8.6, "gain": -1.1},
      {"series": "Co-pol, Meas", "theta": -7.2, "gain": -4.3},
      {"series": "Co-pol, Meas", "theta": -5.2, "gain": -4.5},
      {"series": "Co-pol, Meas", "theta": -3.8, "gain": -0.4},
      {"series": "Co-pol, Meas", "theta": -1.5, "gain": 3.1},
      {"series": "Co-pol, Meas", "theta": 1.3, "gain": 0.6},
      {"series": "Co-pol, Meas", "theta": 3.2, "gain": -1.4},
      {"series": "Co-pol, Meas", "theta": 5.5, "gain": -0.1},
      {"series": "Co-pol, Meas", "theta": 7.7, "gain": -1.4},
      {"series": "Co-pol, Meas", "theta": 10.6, "gain": -4.3},
      {"series": "Co-pol, Meas", "theta": 13.1, "gain": 0.2},
      {"series": "Co-pol, Meas", "theta": 14.8, "gain": 1.9},
      {"series": "Co-pol, Meas", "theta": 16.8, "gain": 4.5},
      {"series": "Co-pol, Meas", "theta": 18.2, "gain": 5.5},
      {"series": "Co-pol, Meas", "theta": 19.6, "gain": 4.1},
      {"series": "Co-pol, Meas", "theta": 21.0, "gain": 1.9},
      {"series": "Co-pol, Meas", "theta": 23.8, "gain": -2.7},
      {"series": "Co-pol, Meas", "theta": 25.8, "gain": -4.3},
      {"series": "Co-pol, Meas", "theta": 27.2, "gain": -1.8},
      {"series": "Co-pol, Meas", "theta": 29.4, "gain": -1.1},
      {"series": "Co-pol, Meas", "theta": 31.7, "gain": -0.1},
      {"series": "Co-pol, Meas", "theta": 34.2, "gain": 1.4},
      {"series": "Co-pol, Meas", "theta": 35.9, "gain": -0.1},
      {"series": "Co-pol, Meas", "theta": 37.9, "gain": -2.3},
      {"series": "Co-pol, Meas", "theta": 39.9, "gain": -2.7},
      {"series": "Co-pol, Meas", "theta": 41.3, "gain": -4.3},
      {"series": "Co-pol, Meas", "theta": 43.5, "gain": -6.3},
      {"series": "Co-pol, Meas", "theta": 45.5, "gain": -8.2},
      {"series": "Co-pol, Meas", "theta": 47.2, "gain": -4.7},
      {"series": "Co-pol, Meas", "theta": 48.6, "gain": -0.8},
      {"series": "Co-pol, Meas", "theta": 50.0, "gain": 0.6},
      {"series": "Co-pol, Meas", "theta": 51.9, "gain": 2.5},
      {"series": "Co-pol, Meas", "theta": 52.8, "gain": 3.6},
      {"series": "Co-pol, Meas", "theta": 54.2, "gain": 3.1},
      {"series": "Co-pol, Meas", "theta": 55.4, "gain": 1.9},
      {"series": "Co-pol, Meas", "theta": 56.8, "gain": -1.4},
      {"series": "Co-pol, Meas", "theta": 57.6, "gain": -4.7},
      {"series": "Co-pol, Meas", "theta": 59.6, "gain": -6.7},
      {"series": "Co-pol, Meas", "theta": 61.0, "gain": -6.3},
      {"series": "Co-pol, Meas", "theta": 62.4, "gain": -7.3},
      {"series": "Co-pol, Meas", "theta": 64.1, "gain": -6.3},
      {"series": "Co-pol, Meas", "theta": 66.1, "gain": -1.8},
      {"series": "Co-pol, Meas", "theta": 67.5, "gain": -1.4},
      {"series": "Co-pol, Meas", "theta": 68.9, "gain": -3.0},
      {"series": "Co-pol, Meas", "theta": 70.3, "gain": -1.4},
      {"series": "Co-pol, Meas", "theta": 71.7, "gain": -3},
      {"series": "Co-pol, Meas", "theta": 73.1, "gain": -5.3},
      {"series": "Co-pol, Meas", "theta": 74.0, "gain": -3.7},
      {"series": "Co-pol, Meas", "theta": 75.4, "gain": -5.7},
      {"series": "Co-pol, Meas", "theta": 76.8, "gain": -8.2},
      {"series": "Co-pol, Meas", "theta": 77.9, "gain": -9.6},
      {"series": "Co-pol, Meas", "theta": 79.6, "gain": -4.7},
      {"series": "Co-pol, Meas", "theta": 81.0, "gain": -7},
      {"series": "Co-pol, Meas", "theta": 82.1, "gain": -10.5},
      {"series": "Co-pol, Meas", "theta": 84.4, "gain": -10.5},
      {"series": "Co-pol, Meas", "theta": 86.6, "gain": -10},
      {"series": "Co-pol, Meas", "theta": 88.0, "gain": -7.3},
      {"series": "Co-pol, Meas", "theta": 89.4, "gain": -6.8},
      {"series": "Co-pol, Meas", "theta": 90.0, "gain": -6.8},

      {"series": "Co-pol, Sim", "theta": -90.0, "gain": -11},
      {"series": "Co-pol, Sim", "theta": -87.5, "gain": -10},
      {"series": "Co-pol, Sim", "theta": -85.2, "gain": -6.3},
      {"series": "Co-pol, Sim", "theta": -84.1, "gain": -6},
      {"series": "Co-pol, Sim", "theta": -82.4, "gain": -6.7},
      {"series": "Co-pol, Sim", "theta": -80.4, "gain": -5.3},
      {"series": "Co-pol, Sim", "theta": -79.0, "gain": -4.2},
      {"series": "Co-pol, Sim", "theta": -77.0, "gain": -5.7},
      {"series": "Co-pol, Sim", "theta": -75.4, "gain": -8.2},
      {"series": "Co-pol, Sim", "theta": -74.2, "gain": -10.5},
      {"series": "Co-pol, Sim", "theta": -71.4, "gain": -10.5},
      {"series": "Co-pol, Sim", "theta": -69.2, "gain": -5.7},
      {"series": "Co-pol, Sim", "theta": -67.2, "gain": -0.4},
      {"series": "Co-pol, Sim", "theta": -65.5, "gain": 2.1},
      {"series": "Co-pol, Sim", "theta": -63.5, "gain": 2.8},
      {"series": "Co-pol, Sim", "theta": -61.5, "gain": 3.5},
      {"series": "Co-pol, Sim", "theta": -60.1, "gain": 2.8},
      {"series": "Co-pol, Sim", "theta": -58.7, "gain": -1.1},
      {"series": "Co-pol, Sim", "theta": -57.9, "gain": -4.3},
      {"series": "Co-pol, Sim", "theta": -56.5, "gain": -0.4},
      {"series": "Co-pol, Sim", "theta": -55.1, "gain": 5.5},
      {"series": "Co-pol, Sim", "theta": -54.2, "gain": 6.5},
      {"series": "Co-pol, Sim", "theta": -53.1, "gain": 4.1},
      {"series": "Co-pol, Sim", "theta": -52.3, "gain": -4},
      {"series": "Co-pol, Sim", "theta": -51.7, "gain": -8.2},
      {"series": "Co-pol, Sim", "theta": -50.8, "gain": 5},
      {"series": "Co-pol, Sim", "theta": -50.3, "gain": 12},
      {"series": "Co-pol, Sim", "theta": -49.4, "gain": 18},
      {"series": "Co-pol, Sim", "theta": -48.6, "gain": 22.2},
      {"series": "Co-pol, Sim", "theta": -46.6, "gain": 25.4},
      {"series": "Co-pol, Sim", "theta": -44.9, "gain": 26.4},
      {"series": "Co-pol, Sim", "theta": -43.2, "gain": 25.6},
      {"series": "Co-pol, Sim", "theta": -41.5, "gain": 22.5},
      {"series": "Co-pol, Sim", "theta": -40.1, "gain": 18.2},
      {"series": "Co-pol, Sim", "theta": -39.0, "gain": 11.7},
      {"series": "Co-pol, Sim", "theta": -38.2, "gain": 2.5},
      {"series": "Co-pol, Sim", "theta": -37.6, "gain": 5.8},
      {"series": "Co-pol, Sim", "theta": -36.8, "gain": 6},
      {"series": "Co-pol, Sim", "theta": -35.4, "gain": 4.8},
      {"series": "Co-pol, Sim", "theta": -33.9, "gain": 4.5},
      {"series": "Co-pol, Sim", "theta": -32.5, "gain": 2.5},
      {"series": "Co-pol, Sim", "theta": -30.6, "gain": -3},
      {"series": "Co-pol, Sim", "theta": -29.7, "gain": -3.7},
      {"series": "Co-pol, Sim", "theta": -28.3, "gain": 5.5},
      {"series": "Co-pol, Sim", "theta": -26.9, "gain": 5.6},
      {"series": "Co-pol, Sim", "theta": -25.5, "gain": 2.8},
      {"series": "Co-pol, Sim", "theta": -24.6, "gain": -3.7},
      {"series": "Co-pol, Sim", "theta": -23.2, "gain": -10.5},
      {"series": "Co-pol, Sim", "theta": -21.8, "gain": -3.7},
      {"series": "Co-pol, Sim", "theta": -20.4, "gain": 1.2},
      {"series": "Co-pol, Sim", "theta": -19.3, "gain": 0.2},
      {"series": "Co-pol, Sim", "theta": -18.5, "gain": -5.3},
      {"series": "Co-pol, Sim", "theta": -17.6, "gain": -8.2},
      {"series": "Co-pol, Sim", "theta": -16.5, "gain": -3.7},
      {"series": "Co-pol, Sim", "theta": -15.1, "gain": -0.4},
      {"series": "Co-pol, Sim", "theta": -13.7, "gain": 1.9},
      {"series": "Co-pol, Sim", "theta": -12.3, "gain": 4.5},
      {"series": "Co-pol, Sim", "theta": -10.8, "gain": 1.6},
      {"series": "Co-pol, Sim", "theta": -10.0, "gain": -3.7},
      {"series": "Co-pol, Sim", "theta": -9.2, "gain": -10.5},
      {"series": "Co-pol, Sim", "theta": -8.0, "gain": -2.1},
      {"series": "Co-pol, Sim", "theta": -6.6, "gain": 3.8},
      {"series": "Co-pol, Sim", "theta": -5.2, "gain": 1.9},
      {"series": "Co-pol, Sim", "theta": -3.5, "gain": 0.9},
      {"series": "Co-pol, Sim", "theta": -1.5, "gain": -0.1},
      {"series": "Co-pol, Sim", "theta": -0.1, "gain": 1.2},
      {"series": "Co-pol, Sim", "theta": 1.3, "gain": 2.1},
      {"series": "Co-pol, Sim", "theta": 3.5, "gain": -2.1},
      {"series": "Co-pol, Sim", "theta": 4.6, "gain": -7},
      {"series": "Co-pol, Sim", "theta": 5.2, "gain": -10.5},
      {"series": "Co-pol, Sim", "theta": 6.9, "gain": 0.2},
      {"series": "Co-pol, Sim", "theta": 8.9, "gain": 1.2},
      {"series": "Co-pol, Sim", "theta": 10.6, "gain": -3},
      {"series": "Co-pol, Sim", "theta": 11.7, "gain": -5.7},
      {"series": "Co-pol, Sim", "theta": 13.4, "gain": 1.9},
      {"series": "Co-pol, Sim", "theta": 14.8, "gain": 4.8},
      {"series": "Co-pol, Sim", "theta": 16.8, "gain": 7.2},
      {"series": "Co-pol, Sim", "theta": 18.7, "gain": 6.5},
      {"series": "Co-pol, Sim", "theta": 20.1, "gain": 4.8},
      {"series": "Co-pol, Sim", "theta": 21.8, "gain": 1.9},
      {"series": "Co-pol, Sim", "theta": 23.2, "gain": -0.4},
      {"series": "Co-pol, Sim", "theta": 25.2, "gain": 0.2},
      {"series": "Co-pol, Sim", "theta": 27.2, "gain": -0.1},
      {"series": "Co-pol, Sim", "theta": 28.6, "gain": 0.5},
      {"series": "Co-pol, Sim", "theta": 29.7, "gain": -7},
      {"series": "Co-pol, Sim", "theta": 30.6, "gain": -10.5},
      {"series": "Co-pol, Sim", "theta": 31.7, "gain": -10.5},
      {"series": "Co-pol, Sim", "theta": 32.8, "gain": -5.7},
      {"series": "Co-pol, Sim", "theta": 34.2, "gain": -1.4},
      {"series": "Co-pol, Sim", "theta": 35.6, "gain": -0.1},
      {"series": "Co-pol, Sim", "theta": 37.0, "gain": 0.2},
      {"series": "Co-pol, Sim", "theta": 38.7, "gain": -0.8},
      {"series": "Co-pol, Sim", "theta": 40.7, "gain": -1.4},
      {"series": "Co-pol, Sim", "theta": 42.7, "gain": -0.8},
      {"series": "Co-pol, Sim", "theta": 44.4, "gain": 0.9},
      {"series": "Co-pol, Sim", "theta": 46.3, "gain": 2.1},
      {"series": "Co-pol, Sim", "theta": 48.3, "gain": 1.9},
      {"series": "Co-pol, Sim", "theta": 50.0, "gain": 2.8},
      {"series": "Co-pol, Sim", "theta": 51.4, "gain": 3.0},
      {"series": "Co-pol, Sim", "theta": 53.9, "gain": -0.1},
      {"series": "Co-pol, Sim", "theta": 55.6, "gain": -1.8},
      {"series": "Co-pol, Sim", "theta": 57.6, "gain": -3.7},
      {"series": "Co-pol, Sim", "theta": 59.0, "gain": -6},
      {"series": "Co-pol, Sim", "theta": 59.9, "gain": -8.6},
      {"series": "Co-pol, Sim", "theta": 61.0, "gain": -10.5},
      {"series": "Co-pol, Sim", "theta": 63.2, "gain": -6.3},
      {"series": "Co-pol, Sim", "theta": 64.6, "gain": -4.7},
      {"series": "Co-pol, Sim", "theta": 66.1, "gain": -4.3},
      {"series": "Co-pol, Sim", "theta": 67.5, "gain": -5.7},
      {"series": "Co-pol, Sim", "theta": 68.9, "gain": -7},
      {"series": "Co-pol, Sim", "theta": 70.3, "gain": -7.6},
      {"series": "Co-pol, Sim", "theta": 71.7, "gain": -10.5},
      {"series": "Co-pol, Sim", "theta": 76.5, "gain": -10.5},
      {"series": "Co-pol, Sim", "theta": 77.9, "gain": -9.2},
      {"series": "Co-pol, Sim", "theta": 79.3, "gain": -8.2},
      {"series": "Co-pol, Sim", "theta": 80.7, "gain": -7.6},
      {"series": "Co-pol, Sim", "theta": 82.1, "gain": -8.6},
      {"series": "Co-pol, Sim", "theta": 83.2, "gain": -10.5},
      {"series": "Co-pol, Sim", "theta": 85.2, "gain": -10.5},
      {"series": "Co-pol, Sim", "theta": 86.3, "gain": -8.6},
      {"series": "Co-pol, Sim", "theta": 87.5, "gain": -10.5},
      {"series": "Co-pol, Sim", "theta": 90.0, "gain": -10.5},

      {"series": "X-pol, Meas", "theta": -90.0, "gain": -11},
      {"series": "X-pol, Meas", "theta": -67.7, "gain": -11},
      {"series": "X-pol, Meas", "theta": -66.3, "gain": -7.6},
      {"series": "X-pol, Meas", "theta": -64.9, "gain": -7},
      {"series": "X-pol, Meas", "theta": -64.1, "gain": -8.6},
      {"series": "X-pol, Meas", "theta": -63.2, "gain": -10.5},
      {"series": "X-pol, Meas", "theta": -58.5, "gain": -10.5},
      {"series": "X-pol, Meas", "theta": -57.3, "gain": -8.2},
      {"series": "X-pol, Meas", "theta": -56.5, "gain": -7.3},
      {"series": "X-pol, Meas", "theta": -55.4, "gain": -9},
      {"series": "X-pol, Meas", "theta": -54.2, "gain": -5},
      {"series": "X-pol, Meas", "theta": -53.1, "gain": -1.8},
      {"series": "X-pol, Meas", "theta": -51.7, "gain": -1},
      {"series": "X-pol, Meas", "theta": -50.3, "gain": -0.1},
      {"series": "X-pol, Meas", "theta": -48.6, "gain": 1.2},
      {"series": "X-pol, Meas", "theta": -47.5, "gain": 1.9},
      {"series": "X-pol, Meas", "theta": -46.1, "gain": 2.8},
      {"series": "X-pol, Meas", "theta": -44.6, "gain": 1.9},
      {"series": "X-pol, Meas", "theta": -43.8, "gain": -0.4},
      {"series": "X-pol, Meas", "theta": -43.0, "gain": -5.7},
      {"series": "X-pol, Meas", "theta": -42.4, "gain": -10.5},
      {"series": "X-pol, Meas", "theta": -39.3, "gain": -10.5},
      {"series": "X-pol, Meas", "theta": -38.5, "gain": -9},
      {"series": "X-pol, Meas", "theta": -37.6, "gain": -7.5},
      {"series": "X-pol, Meas", "theta": -36.8, "gain": -7},
      {"series": "X-pol, Meas", "theta": -35.9, "gain": -7.3},
      {"series": "X-pol, Meas", "theta": -34.8, "gain": -9.5},
      {"series": "X-pol, Meas", "theta": -33.4, "gain": -9},
      {"series": "X-pol, Meas", "theta": -32.0, "gain": -9.5},
      {"series": "X-pol, Meas", "theta": -30.6, "gain": -7.3},
      {"series": "X-pol, Meas", "theta": -29.7, "gain": -4.3},
      {"series": "X-pol, Meas", "theta": -28.9, "gain": -2.7},
      {"series": "X-pol, Meas", "theta": -27.7, "gain": -1.1},
      {"series": "X-pol, Meas", "theta": -26.3, "gain": -3},
      {"series": "X-pol, Meas", "theta": -25.5, "gain": -5.7},
      {"series": "X-pol, Meas", "theta": -24.4, "gain": -10.5},
      {"series": "X-pol, Meas", "theta": -22.7, "gain": -10.5},
      {"series": "X-pol, Meas", "theta": -21.8, "gain": -8},
      {"series": "X-pol, Meas", "theta": -20.7, "gain": -4},
      {"series": "X-pol, Meas", "theta": -19.6, "gain": -1},
      {"series": "X-pol, Meas", "theta": -18.5, "gain": 0.9},
      {"series": "X-pol, Meas", "theta": -17.0, "gain": 4.5},
      {"series": "X-pol, Meas", "theta": -15.6, "gain": 5.5},
      {"series": "X-pol, Meas", "theta": -13.7, "gain": 6.1},
      {"series": "X-pol, Meas", "theta": -12.8, "gain": 5.8},
      {"series": "X-pol, Meas", "theta": -11.4, "gain": 4.8},
      {"series": "X-pol, Meas", "theta": -10.0, "gain": 2.8},
      {"series": "X-pol, Meas", "theta": -9.2, "gain": -1.1},
      {"series": "X-pol, Meas", "theta": -8.0, "gain": -3.7},
      {"series": "X-pol, Meas", "theta": -7.2, "gain": -4.3},
      {"series": "X-pol, Meas", "theta": -5.8, "gain": -1.4},
      {"series": "X-pol, Meas", "theta": -4.4, "gain": 1.9},
      {"series": "X-pol, Meas", "theta": -3.0, "gain": 3.8},
      {"series": "X-pol, Meas", "theta": -1.5, "gain": 2.8},
      {"series": "X-pol, Meas", "theta": -0.1, "gain": 1.9},
      {"series": "X-pol, Meas", "theta": 1.3, "gain": 0.6},
      {"series": "X-pol, Meas", "theta": 3.2, "gain": -1},
      {"series": "X-pol, Meas", "theta": 4.6, "gain": -1.4},
      {"series": "X-pol, Meas", "theta": 6.3, "gain": -0.5},
      {"series": "X-pol, Meas", "theta": 7.7, "gain": -0.1},
      {"series": "X-pol, Meas", "theta": 9.2, "gain": 0.6},
      {"series": "X-pol, Meas", "theta": 10.6, "gain": 1.6},
      {"series": "X-pol, Meas", "theta": 13.4, "gain": 3.1},
      {"series": "X-pol, Meas", "theta": 14.5, "gain": 3.8},
      {"series": "X-pol, Meas", "theta": 15.4, "gain": 2.5},
      {"series": "X-pol, Meas", "theta": 16.2, "gain": -1.8},
      {"series": "X-pol, Meas", "theta": 17.3, "gain": -5},
      {"series": "X-pol, Meas", "theta": 18.5, "gain": -5.5},
      {"series": "X-pol, Meas", "theta": 19.6, "gain": -4},
      {"series": "X-pol, Meas", "theta": 21.5, "gain": -2.3},
      {"series": "X-pol, Meas", "theta": 23.8, "gain": -4.3},
      {"series": "X-pol, Meas", "theta": 25.2, "gain": -6.3},
      {"series": "X-pol, Meas", "theta": 26.1, "gain": -7.9},
      {"series": "X-pol, Meas", "theta": 27.5, "gain": -9},
      {"series": "X-pol, Meas", "theta": 28.6, "gain": -10.5},
      {"series": "X-pol, Meas", "theta": 35.1, "gain": -10.5},
      {"series": "X-pol, Meas", "theta": 35.9, "gain": -7},
      {"series": "X-pol, Meas", "theta": 37.0, "gain": -10.5},
      {"series": "X-pol, Meas", "theta": 51.9, "gain": -10.5},
      {"series": "X-pol, Meas", "theta": 52.8, "gain": -9},
      {"series": "X-pol, Meas", "theta": 53.9, "gain": -8.2},
      {"series": "X-pol, Meas", "theta": 55.1, "gain": -10.5},
      {"series": "X-pol, Meas", "theta": 72.5, "gain": -10.5},
      {"series": "X-pol, Meas", "theta": 73.9, "gain": -8},
      {"series": "X-pol, Meas", "theta": 75.1, "gain": -7.5},
      {"series": "X-pol, Meas", "theta": 76.2, "gain": -10.5},
      {"series": "X-pol, Meas", "theta": 90.0, "gain": -10.5},

      {"series": "X-pol, Sim", "theta": -90.0, "gain": -11},
      {"series": "X-pol, Sim", "theta": -79.0, "gain": -11},
      {"series": "X-pol, Sim", "theta": -77.6, "gain": -8},
      {"series": "X-pol, Sim", "theta": -76.2, "gain": -10.5},
      {"series": "X-pol, Sim", "theta": -74.8, "gain": -6.7},
      {"series": "X-pol, Sim", "theta": -73.4, "gain": -9},
      {"series": "X-pol, Sim", "theta": -72.5, "gain": -10.5},
      {"series": "X-pol, Sim", "theta": -71.4, "gain": -6},
      {"series": "X-pol, Sim", "theta": -70.6, "gain": -4.3},
      {"series": "X-pol, Sim", "theta": -69.7, "gain": -2.3},
      {"series": "X-pol, Sim", "theta": -68.6, "gain": -2.7},
      {"series": "X-pol, Sim", "theta": -67.7, "gain": -5},
      {"series": "X-pol, Sim", "theta": -66.9, "gain": -7},
      {"series": "X-pol, Sim", "theta": -65.8, "gain": -8},
      {"series": "X-pol, Sim", "theta": -64.9, "gain": -6.7},
      {"series": "X-pol, Sim", "theta": -63.5, "gain": -8.2},
      {"series": "X-pol, Sim", "theta": -62.9, "gain": -10.5},
      {"series": "X-pol, Sim", "theta": -55.6, "gain": -10.5},
      {"series": "X-pol, Sim", "theta": -54.5, "gain": -7.6},
      {"series": "X-pol, Sim", "theta": -53.7, "gain": -7},
      {"series": "X-pol, Sim", "theta": -52.8, "gain": -6},
      {"series": "X-pol, Sim", "theta": -51.7, "gain": -2.1},
      {"series": "X-pol, Sim", "theta": -50.8, "gain": -1.1},
      {"series": "X-pol, Sim", "theta": -49.4, "gain": -0.1},
      {"series": "X-pol, Sim", "theta": -48.0, "gain": 0.2},
      {"series": "X-pol, Sim", "theta": -46.6, "gain": -1.1},
      {"series": "X-pol, Sim", "theta": -44.6, "gain": -1.6},
      {"series": "X-pol, Sim", "theta": -43.2, "gain": -0.9},
      {"series": "X-pol, Sim", "theta": -41.8, "gain": -0.3},
      {"series": "X-pol, Sim", "theta": -40.4, "gain": -1.6},
      {"series": "X-pol, Sim", "theta": -39.6, "gain": -4.2},
      {"series": "X-pol, Sim", "theta": -38.7, "gain": -6.7},
      {"series": "X-pol, Sim", "theta": -37.3, "gain": -6},
      {"series": "X-pol, Sim", "theta": -35.9, "gain": -7.6},
      {"series": "X-pol, Sim", "theta": -34.5, "gain": -9.6},
      {"series": "X-pol, Sim", "theta": -32.5, "gain": -10.5},
      {"series": "X-pol, Sim", "theta": -30.8, "gain": -8},
      {"series": "X-pol, Sim", "theta": -29.7, "gain": -3},
      {"series": "X-pol, Sim", "theta": -28.9, "gain": -2.1},
      {"series": "X-pol, Sim", "theta": -27.5, "gain": -1.8},
      {"series": "X-pol, Sim", "theta": -26.3, "gain": -3},
      {"series": "X-pol, Sim", "theta": -25.2, "gain": -7},
      {"series": "X-pol, Sim", "theta": -24.1, "gain": -10.5},
      {"series": "X-pol, Sim", "theta": -21.8, "gain": -10.5},
      {"series": "X-pol, Sim", "theta": -21.3, "gain": -8.6},
      {"series": "X-pol, Sim", "theta": -20.4, "gain": -5.7},
      {"series": "X-pol, Sim", "theta": -19.3, "gain": -4.3},
      {"series": "X-pol, Sim", "theta": -18.2, "gain": -6.5},
      {"series": "X-pol, Sim", "theta": -17.0, "gain": -9},
      {"series": "X-pol, Sim", "theta": -16.2, "gain": -10.5},
      {"series": "X-pol, Sim", "theta": -15.6, "gain": -3.7},
      {"series": "X-pol, Sim", "theta": -14.8, "gain": -0.4},
      {"series": "X-pol, Sim", "theta": -13.7, "gain": 1.9},
      {"series": "X-pol, Sim", "theta": -12.8, "gain": -0.5},
      {"series": "X-pol, Sim", "theta": -12.3, "gain": -1.8},
      {"series": "X-pol, Sim", "theta": -11.4, "gain": -10.5},
      {"series": "X-pol, Sim", "theta": -8.6, "gain": -10.5},
      {"series": "X-pol, Sim", "theta": -7.2, "gain": 2},
      {"series": "X-pol, Sim", "theta": -5.8, "gain": 3.5},
      {"series": "X-pol, Sim", "theta": -4.4, "gain": 4.1},
      {"series": "X-pol, Sim", "theta": -2.4, "gain": 3.1},
      {"series": "X-pol, Sim", "theta": -0.7, "gain": 1.9},
      {"series": "X-pol, Sim", "theta": 0.4, "gain": -2.1},
      {"series": "X-pol, Sim", "theta": 1.3, "gain": -5.3},
      {"series": "X-pol, Sim", "theta": 2.1, "gain": -3},
      {"series": "X-pol, Sim", "theta": 3.2, "gain": -1.1},
      {"series": "X-pol, Sim", "theta": 4.6, "gain": 0},
      {"series": "X-pol, Sim", "theta": 6.1, "gain": 0.2},
      {"series": "X-pol, Sim", "theta": 7.7, "gain": 1.5},
      {"series": "X-pol, Sim", "theta": 9.7, "gain": 2.5},
      {"series": "X-pol, Sim", "theta": 11.7, "gain": 3.8},
      {"series": "X-pol, Sim", "theta": 13.1, "gain": 5.1},
      {"series": "X-pol, Sim", "theta": 15.4, "gain": 3.5},
      {"series": "X-pol, Sim", "theta": 17.3, "gain": 2.5},
      {"series": "X-pol, Sim", "theta": 18.7, "gain": 4.5},
      {"series": "X-pol, Sim", "theta": 20.1, "gain": 5.5},
      {"series": "X-pol, Sim", "theta": 21.5, "gain": 5.1},
      {"series": "X-pol, Sim", "theta": 23.0, "gain": 2.8},
      {"series": "X-pol, Sim", "theta": 23.8, "gain": -0.1},
      {"series": "X-pol, Sim", "theta": 25.2, "gain": -3},
      {"series": "X-pol, Sim", "theta": 26.1, "gain": -4.7},
      {"series": "X-pol, Sim", "theta": 26.6, "gain": -7},
      {"series": "X-pol, Sim", "theta": 27.5, "gain": -10.5},
      {"series": "X-pol, Sim", "theta": 28.6, "gain": -3},
      {"series": "X-pol, Sim", "theta": 29.4, "gain": 0.6},
      {"series": "X-pol, Sim", "theta": 30.8, "gain": 0.6},
      {"series": "X-pol, Sim", "theta": 31.7, "gain": -1.1},
      {"series": "X-pol, Sim", "theta": 33.1, "gain": -4.3},
      {"series": "X-pol, Sim", "theta": 34.2, "gain": -7.6},
      {"series": "X-pol, Sim", "theta": 35.1, "gain": -5},
      {"series": "X-pol, Sim", "theta": 35.9, "gain": -2.3},
      {"series": "X-pol, Sim", "theta": 37.9, "gain": 0.9},
      {"series": "X-pol, Sim", "theta": 39.9, "gain": 2.5},
      {"series": "X-pol, Sim", "theta": 41.5, "gain": 2.1},
      {"series": "X-pol, Sim", "theta": 43.5, "gain": 1.2},
      {"series": "X-pol, Sim", "theta": 45.8, "gain": -1.1},
      {"series": "X-pol, Sim", "theta": 46.9, "gain": -3.7},
      {"series": "X-pol, Sim", "theta": 47.7, "gain": -6.3},
      {"series": "X-pol, Sim", "theta": 48.6, "gain": -9},
      {"series": "X-pol, Sim", "theta": 49.2, "gain": -10.5},
      {"series": "X-pol, Sim", "theta": 58.2, "gain": -10.5},
      {"series": "X-pol, Sim", "theta": 59.6, "gain": -7},
      {"series": "X-pol, Sim", "theta": 60.4, "gain": -5.7},
      {"series": "X-pol, Sim", "theta": 61.5, "gain": -7.5},
      {"series": "X-pol, Sim", "theta": 62.7, "gain": -10.5},
      {"series": "X-pol, Sim", "theta": 66.1, "gain": -10.5},
      {"series": "X-pol, Sim", "theta": 67.5, "gain": -8},
      {"series": "X-pol, Sim", "theta": 68.3, "gain": -9.5},
      {"series": "X-pol, Sim", "theta": 69.4, "gain": -10.5},
      {"series": "X-pol, Sim", "theta": 73.4, "gain": -10.5},
      {"series": "X-pol, Sim", "theta": 74.5, "gain": -6.7},
      {"series": "X-pol, Sim", "theta": 75.6, "gain": -9},
      {"series": "X-pol, Sim", "theta": 76.5, "gain": -10.5},
      {"series": "X-pol, Sim", "theta": 79.6, "gain": -10.5},
      {"series": "X-pol, Sim", "theta": 81.0, "gain": -7.5},
      {"series": "X-pol, Sim", "theta": 82.1, "gain": -10.5},
      {"series": "X-pol, Sim", "theta": 90.0, "gain": -10.5}
    ]
  },
  "vconcat": [
    {
      "data": {"name": "a"},
      "width": 639,
      "height": 408,
      "title": {"text": "ϕ = 180°◂┄┄┄┄┼┄┄┄┄▸ϕ = 0°  ⠀", "subtitle": "(a)", "orient": "bottom", "anchor": "middle", "font": "Liberation Sans", "fontSize": 34, "fontWeight": "normal", "color": "black", "subtitleFont": "Liberation Serif", "subtitleFontSize": 30, "subtitleColor": "black", "subtitlePadding": 15, "offset": 2},
      "mark": {"type": "line", "clip": true, "strokeWidth": 3.5, "strokeJoin": "round"},
      "encoding": {
        "x": {"field": "theta", "type": "quantitative", "scale": {"domain": [-90, 90], "nice": false},
          "axis": {"title": "Theta [Degrees]", "values": [-90, -75, -60, -45, -30, -15, 0, 15, 30, 45, 60, 75, 90],
            "labelExpr": "datum.value % 30 === 0 ? toString(abs(datum.value)) : ''",
            "tickSize": {"condition": {"test": "datum.value % 30 !== 0", "value": 4}, "value": 7},
            "gridColor": {"condition": {"test": "datum.value % 30 !== 0", "value": "#c4c4c4"}, "value": "#8f8f8f"},
            "gridDash": {"condition": {"test": "datum.value % 30 !== 0", "value": [2, 2]}, "value": []},
            "gridWidth": {"condition": {"test": "datum.value % 30 !== 0", "value": 1}, "value": 1.6},
            "titlePadding": 8}},
        "y": {"field": "gain", "type": "quantitative", "scale": {"domain": [-15, 25], "nice": false},
          "axis": {"title": "Realized Gain [dBi]", "values": [-15, -12.5, -10, -7.5, -5, -2.5, 0, 2.5, 5, 7.5, 10, 12.5, 15, 17.5, 20, 22.5, 25],
            "labelExpr": "datum.value % 5 === 0 ? toString(datum.value) : ''",
            "tickSize": {"condition": {"test": "datum.value % 5 !== 0", "value": 4}, "value": 7},
            "gridColor": {"condition": {"test": "datum.value % 5 !== 0", "value": "#c4c4c4"}, "value": "#8f8f8f"},
            "gridDash": {"condition": {"test": "datum.value % 5 !== 0", "value": [2, 2]}, "value": []},
            "gridWidth": {"condition": {"test": "datum.value % 5 !== 0", "value": 1}, "value": 1.6},
            "titlePadding": 21}},
        "color": {"field": "series", "type": "nominal",
          "scale": {"domain": ["Co-pol, Meas", "X-pol, Meas", "Co-pol, Sim", "X-pol, Sim"], "range": ["#ed1c24", "#ed1c24", "#3953a4", "#3953a4"]},
          "legend": {"legendX": 61, "legendY": 25}},
        "strokeDash": {"field": "series", "type": "nominal",
          "scale": {"domain": ["Co-pol, Meas", "X-pol, Meas", "Co-pol, Sim", "X-pol, Sim"], "range": [[1, 0], [9, 5], [1, 0], [9, 5]]},
          "legend": {"legendX": 61, "legendY": 25}}
      }
    },
    {
      "data": {"name": "b"},
      "width": 639,
      "height": 408,
      "title": {"text": "ϕ = 180°◂┄┄┄┄┼┄┄┄┄▸ϕ = 0°  ⠀", "subtitle": "(b)", "orient": "bottom", "anchor": "middle", "font": "Liberation Sans", "fontSize": 34, "fontWeight": "normal", "color": "black", "subtitleFont": "Liberation Serif", "subtitleFontSize": 30, "subtitleColor": "black", "subtitlePadding": 15, "offset": 2},
      "mark": {"type": "line", "clip": true, "strokeWidth": 3.5, "strokeJoin": "round"},
      "encoding": {
        "x": {"field": "theta", "type": "quantitative", "scale": {"domain": [-90, 90], "nice": false},
          "axis": {"title": "Theta [Degrees]", "values": [-90, -75, -60, -45, -30, -15, 0, 15, 30, 45, 60, 75, 90],
            "labelExpr": "datum.value % 30 === 0 ? toString(abs(datum.value)) : ''",
            "tickSize": {"condition": {"test": "datum.value % 30 !== 0", "value": 4}, "value": 7},
            "gridColor": {"condition": {"test": "datum.value % 30 !== 0", "value": "#c4c4c4"}, "value": "#8f8f8f"},
            "gridDash": {"condition": {"test": "datum.value % 30 !== 0", "value": [2, 2]}, "value": []},
            "gridWidth": {"condition": {"test": "datum.value % 30 !== 0", "value": 1}, "value": 1.6},
            "titlePadding": 8}},
        "y": {"field": "gain", "type": "quantitative", "scale": {"domain": [-10, 30], "nice": false},
          "axis": {"title": "Realized Gain [dBi]", "values": [-10, -7.5, -5, -2.5, 0, 2.5, 5, 7.5, 10, 12.5, 15, 17.5, 20, 22.5, 25, 27.5, 30],
            "labelExpr": "datum.value % 5 === 0 ? toString(datum.value) : ''",
            "tickSize": {"condition": {"test": "datum.value % 5 !== 0", "value": 4}, "value": 7},
            "gridColor": {"condition": {"test": "datum.value % 5 !== 0", "value": "#c4c4c4"}, "value": "#8f8f8f"},
            "gridDash": {"condition": {"test": "datum.value % 5 !== 0", "value": [2, 2]}, "value": []},
            "gridWidth": {"condition": {"test": "datum.value % 5 !== 0", "value": 1}, "value": 1.6},
            "titlePadding": 21}},
        "color": {"field": "series", "type": "nominal",
          "scale": {"domain": ["Co-pol, Meas", "X-pol, Meas", "Co-pol, Sim", "X-pol, Sim"], "range": ["#ed1c24", "#ed1c24", "#3953a4", "#3953a4"]},
          "legend": {"legendX": 283, "legendY": 36}},
        "strokeDash": {"field": "series", "type": "nominal",
          "scale": {"domain": ["Co-pol, Meas", "X-pol, Meas", "Co-pol, Sim", "X-pol, Sim"], "range": [[1, 0], [9, 5], [1, 0], [9, 5]]},
          "legend": {"legendX": 283, "legendY": 36}}
      }
    }
  ]
}
